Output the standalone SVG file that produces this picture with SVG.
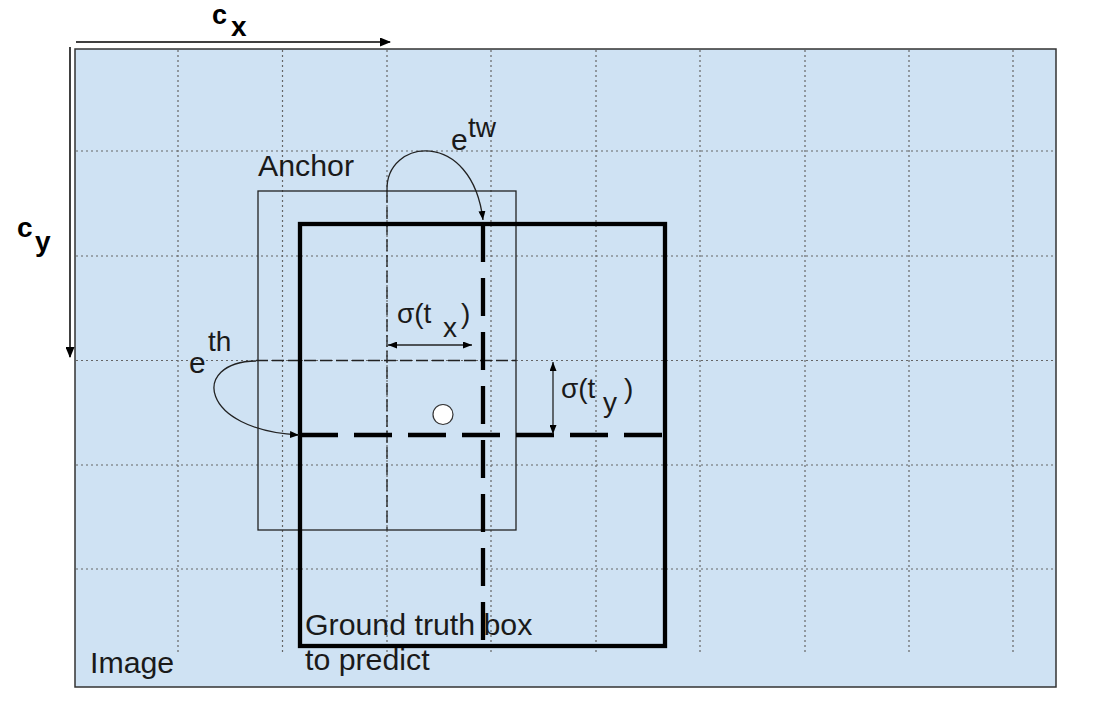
<svg xmlns="http://www.w3.org/2000/svg" width="1093" height="708" viewBox="0 0 1093 708">
<style>
text{font-family:"Liberation Sans",Arial,sans-serif;fill:#1a1a1a}
.lbl{font-size:30.3px}
.sm{font-size:28px}
.bold{font-weight:bold;font-size:28px;fill:#000}
.grid{stroke:#666;stroke-width:1.2;stroke-dasharray:2 3;fill:none}
.thin{stroke:#222;stroke-width:1.3;fill:none}
.tdash{stroke:#222;stroke-width:1.3;fill:none;stroke-dasharray:12 4}
.thick{stroke:#000;stroke-width:4.3;fill:none}
.thickdash{stroke:#000;stroke-width:4.3;fill:none;stroke-dasharray:38 16}
</style>
<defs>
<marker id="ah" markerUnits="userSpaceOnUse" markerWidth="11" markerHeight="9" refX="10" refY="4.5" orient="auto">
<path d="M0,0 L11,4.5 L0,9 z" fill="#000"/>
</marker>
<marker id="sh" markerUnits="userSpaceOnUse" markerWidth="9" markerHeight="7" refX="9" refY="3.5" orient="auto-start-reverse">
<path d="M0,0 L9,3.5 L0,7 z" fill="#000"/>
</marker>
</defs>
<g id="image">
<rect x="75" y="49" width="981" height="638" fill="#cfe2f3" stroke="#333" stroke-width="1.5"/>
<g class="grid">
<path d="M178,50V653 M282.5,50V653 M387,50V653 M491,50V653 M596,50V653 M700,50V653 M805,50V653 M909,50V653 M1013,50V653"/>
<path d="M76,151H1055 M76,256H1055 M76,360.5H1055 M76,465H1055 M76,569H1055"/>
</g>
<text class="lbl" x="90" y="673">Image</text>
</g>
<g id="axes">
<line x1="76" y1="42" x2="390" y2="42" stroke="#000" stroke-width="1.5" marker-end="url(#ah)"/>
<line x1="70" y1="47" x2="70" y2="357" stroke="#000" stroke-width="1.5" marker-end="url(#ah)"/>
<text class="bold" x="212" y="24" style="font-size:27px">c</text><text class="bold" x="231" y="36">x</text>
<text class="bold" x="17" y="237">c</text><text class="bold" x="35" y="251">y</text>
</g>
<g id="anchor">
<rect x="258" y="191" width="258" height="339" class="thin"/>
<text class="lbl" x="258" y="176">Anchor</text>
<line x1="387" y1="191" x2="387" y2="530" class="tdash"/>
<line x1="256" y1="360.5" x2="516" y2="360.5" class="tdash"/>
</g>
<g id="groundtruth">
<rect x="300" y="224" width="365" height="422" class="thick"/>
<line x1="483" y1="224" x2="483" y2="646" class="thickdash"/>
<line x1="300" y1="435" x2="665" y2="435" class="thickdash"/>
<text class="lbl" x="305" y="635">Ground truth box</text>
<text class="lbl" x="305" y="670">to predict</text>
</g>
<g id="center">
<circle cx="443" cy="414.5" r="10" fill="#fff" stroke="#333" stroke-width="1.2"/>
</g>
<g id="connectors">
<path d="M387,191 C385,138 472,128 483,220" class="thin" marker-end="url(#sh)"/>
<path d="M256,361 C190,362 200,430 299,435" class="thin" marker-end="url(#sh)"/>
<line x1="388" y1="345" x2="472" y2="345" class="thin" marker-start="url(#sh)" marker-end="url(#sh)"/>
<line x1="553" y1="362" x2="553" y2="434" class="thin" marker-start="url(#sh)" marker-end="url(#sh)"/>
</g>
<g id="labels">
<text class="sm" x="451" y="150" style="font-size:30px">e</text><text class="sm" x="468" y="137">tw</text>
<text class="sm" x="189" y="373" style="font-size:30px">e</text><text class="sm" x="208" y="351">th</text>
<text class="sm" x="397" y="323">σ(t</text><text class="sm" x="443" y="337">x</text><text class="sm" x="461" y="323">)</text>
<text class="sm" x="561" y="398">σ(t</text><text class="sm" x="603" y="412">y</text><text class="sm" x="624" y="398">)</text>
</g>
</svg>
